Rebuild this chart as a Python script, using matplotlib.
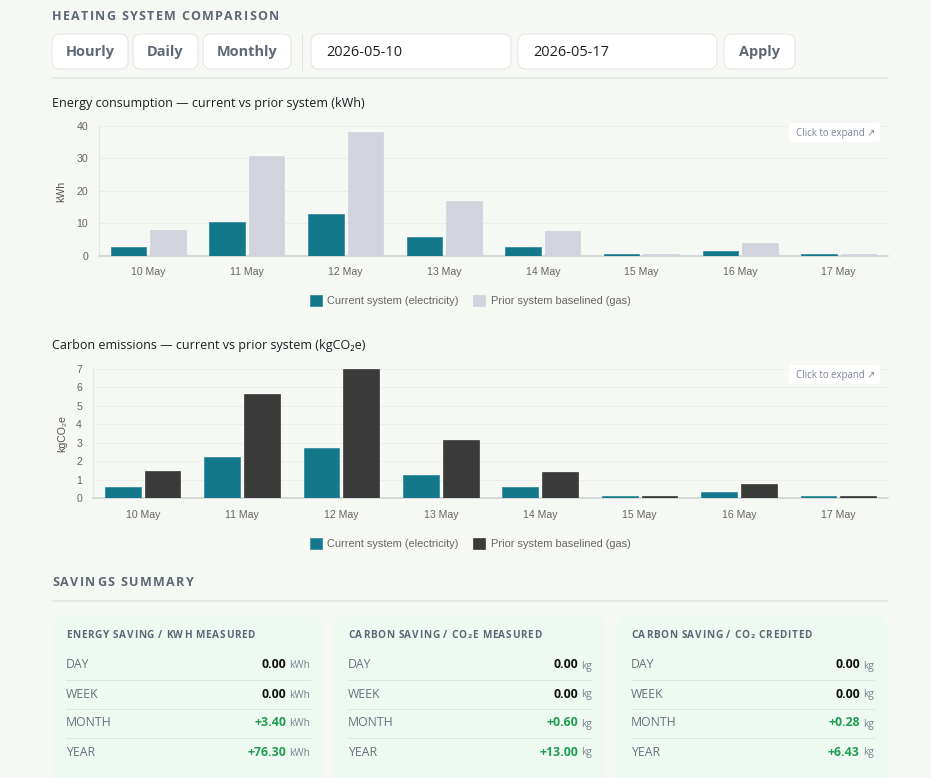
import matplotlib
matplotlib.use('Agg')
import matplotlib.pyplot as plt
import numpy as np
from matplotlib.patches import FancyBboxPatch
from matplotlib.font_manager import FontProperties
from matplotlib.textpath import text_to_path

# data
days = ['10 May', '11 May', '12 May', '13 May', '14 May', '15 May', '16 May', '17 May']
energy_current = [2.8, 10.5, 13.0, 5.8, 2.8, 0.6, 1.4, 0.6]
energy_prior = [8.0, 30.7, 38.2, 17.0, 7.7, 0.6, 4.0, 0.6]
carbon_current = [0.58, 2.2, 2.7, 1.23, 0.58, 0.12, 0.31, 0.12]
carbon_prior = [1.46, 5.62, 6.97, 3.13, 1.4, 0.12, 0.74, 0.12]

periods = ['DAY', 'WEEK', 'MONTH', 'YEAR']
energy_saving = [0.00, 0.00, 3.40, 76.30]
carbon_measured = [0.00, 0.00, 0.60, 13.00]
carbon_credited = [0.00, 0.00, 0.28, 6.43]

W, H = 931, 778
BG = '#f6f8f3'
UI = ['Open Sans', 'DejaVu Sans']
CH = ['Liberation Sans', 'DejaVu Sans']
TEAL = '#13788a'
GREY = '#d1d4dc'
DARK = '#3a3a3a'


def pt(px):
    return px * 0.72


def text_w(s, px, weight='normal', family=UI):
    fp = FontProperties(family=family, weight=weight, size=pt(px))
    w, h, d = text_to_path.get_text_width_height_descent(s, fp, ismath=False)
    return w / 0.72


def spaced(ax, x, y, s, px, gap, weight='bold', color='#5d6775'):
    # letter-spaced caps headings
    for ch in s:
        ax.text(x, y, ch, fontsize=pt(px), fontweight=weight, color=color,
                family=UI, va='center', ha='left')
        x += text_w('I' + ch + 'I', px, weight) - text_w('II', px, weight) + gap


def box(ax, x0, y0, x1, y1, r, fc, ec='none', lw=1.0):
    ax.add_patch(FancyBboxPatch((x0 + r, y0 + r), x1 - x0 - 2 * r, y1 - y0 - 2 * r,
                                boxstyle='round,pad=%g' % r, fc=fc, ec=ec, lw=pt(lw)))


fig = plt.figure(figsize=(9.31, 7.78), dpi=100, facecolor=BG)
bg = fig.add_axes([0, 0, 1, 1])
bg.set_xlim(0, W)
bg.set_ylim(H, 0)
bg.axis('off')

# header
spaced(bg, 52, 16, 'HEATING SYSTEM COMPARISON', 12.5, 1.3)
for label, x0, x1 in [('Hourly', 52, 128), ('Daily', 133, 198), ('Monthly', 203, 291)]:
    box(bg, x0, 34, x1, 69, 8, 'white', '#e2e5e2')
    bg.text((x0 + x1) / 2, 52, label, fontsize=pt(14.5), fontweight='bold', color='#5f6878',
            family=UI, ha='center', va='center')
bg.plot([302, 302], [34, 70], color='#e0e3e0', lw=pt(1))
for label, x0, x1 in [('2026-05-10', 311, 511), ('2026-05-17', 518, 717)]:
    box(bg, x0, 34, x1, 69, 8, 'white', '#e2e5e2')
    bg.text(x0 + 15.5, 52, label, fontsize=pt(14.5), color='#1d1f22', family=UI, va='center')
box(bg, 724, 34, 795, 69, 8, 'white', '#e2e5e2')
bg.text(759.5, 52, 'Apply', fontsize=pt(14.5), fontweight='bold', color='#5f6878',
        family=UI, ha='center', va='center')
bg.plot([52, 888], [78, 78], color='#e2e5e2', lw=pt(1.5))

bg.text(52, 103, 'Energy consumption \u2014 current vs prior system (kWh)', fontsize=pt(12.5),
        color='#1a1e22', family=UI, va='center')
bg.text(52, 345, 'Carbon emissions \u2014 current vs prior system (kgCO\u2082e)', fontsize=pt(12.5),
        color='#1a1e22', family=UI, va='center')


def bar_chart(left, right, top, bottom, ymax, step, current, prior, prior_color, ylabel, label_x, legend_y):
    ax = fig.add_axes([left / W, 1 - bottom / H, (right - left) / W, (bottom - top) / H])
    ax.set_facecolor('none')
    x = np.arange(len(days))
    b1 = ax.bar(x - 0.2, current, width=0.36, color=TEAL, edgecolor='#2a8799', lw=0.5, zorder=3)
    b2 = ax.bar(x + 0.2, prior, width=0.36, color=prior_color, edgecolor=prior_color, lw=0.5, zorder=3)
    ax.set_xlim(-0.5, len(days) - 0.5)
    ax.set_ylim(0, ymax)
    ax.set_yticks(np.arange(0, ymax + step / 2, step))
    ax.set_xticks(x)
    ax.set_xticklabels(days)
    ax.yaxis.grid(True, color='#eceee9', lw=pt(1), zorder=0)
    for s in ['top', 'right']:
        ax.spines[s].set_visible(False)
    ax.spines['left'].set_color('#e6e8e4')
    ax.spines['bottom'].set_color('#cdd1d4')
    ax.spines['bottom'].set_linewidth(pt(1.5))
    ax.tick_params(axis='both', length=0, labelsize=pt(10.5), labelcolor='#666666')
    ax.tick_params(axis='y', pad=pt(11))
    ax.tick_params(axis='x', pad=pt(11.5))
    for t in ax.get_xticklabels() + ax.get_yticklabels():
        t.set_family(CH)
    ax.set_ylabel(ylabel, fontsize=pt(10.5), color='#555555', family=CH)
    ax.yaxis.set_label_coords((label_x - left) / (right - left), 0.5)
    fig.legend([b1, b2], ['Current system (electricity)', 'Prior system baselined (gas)'],
               loc='center', bbox_to_anchor=(470 / W, 1 - legend_y / H), ncol=2, frameon=False,
               prop=FontProperties(family=CH, size=pt(11)), labelcolor='#666666',
               handlelength=1.1, handleheight=1.1, handletextpad=0.5, columnspacing=1.3)
    return ax


bar_chart(99, 888, 126, 256, 40, 10, energy_current, energy_prior, GREY, 'kWh', 66, 300.5)
bar_chart(93, 888, 368.7, 498, 7, 1, carbon_current, carbon_prior, DARK, 'kgCO\u2082e', 67, 543.5)

top = fig.add_axes([0, 0, 1, 1])
top.set_xlim(0, W)
top.set_ylim(H, 0)
top.axis('off')
top.set_facecolor('none')
for y0 in [123, 365]:
    box(top, 789, y0, 880, y0 + 19, 4, 'white')
    top.text(796, y0 + 10, 'Click to expand \u2197', fontsize=pt(9.7), color='#7c8494',
             family=UI, va='center')

# savings summary
spaced(bg, 52, 583, 'SAVINGS SUMMARY', 12.5, 1.4)
bg.plot([52, 888], [601, 601], color='#e2e5e2', lw=pt(1.5))

cards = [
    (52, 323, 'ENERGY SAVING / KWH MEASURED', energy_saving, 'kWh'),
    (334, 605, 'CARBON SAVING / CO\u2082E MEASURED', carbon_measured, 'kg'),
    (617, 887, 'CARBON SAVING / CO\u2082 CREDITED', carbon_credited, 'kg'),
]
row_y = [665, 694, 723, 752]
for x0, x1, title, vals, unit in cards:
    box(bg, x0, 617, x1, 800, 10, '#eefaf1')
    lx, rx = x0 + 14, x1 - 13
    spaced(bg, lx, 635, title, 10, 0.7, color='#5d6775')
    for i, (p, v) in enumerate(zip(periods, vals)):
        y = row_y[i]
        bg.text(lx, y, p, fontsize=pt(12.3), color='#69717e', family=UI, va='center')
        bg.text(rx, y + 1, unit, fontsize=pt(10), color='#7a8090', family=UI, va='center', ha='right')
        uw = text_w(unit, 10)
        if v > 0:
            s, c = '+%.2f' % v, '#1e9e50'
        else:
            s, c = '%.2f' % v, '#111111'
        bg.text(rx - uw - 3.5, y, s, fontsize=pt(12.3), fontweight='bold', color=c, family=UI,
                va='center', ha='right')
        if i < 3:
            bg.plot([lx, rx], [y + 14.5, y + 14.5], color='#dfe5e0', lw=pt(1))

fig.savefig('out.png', dpi=100, facecolor=BG)
